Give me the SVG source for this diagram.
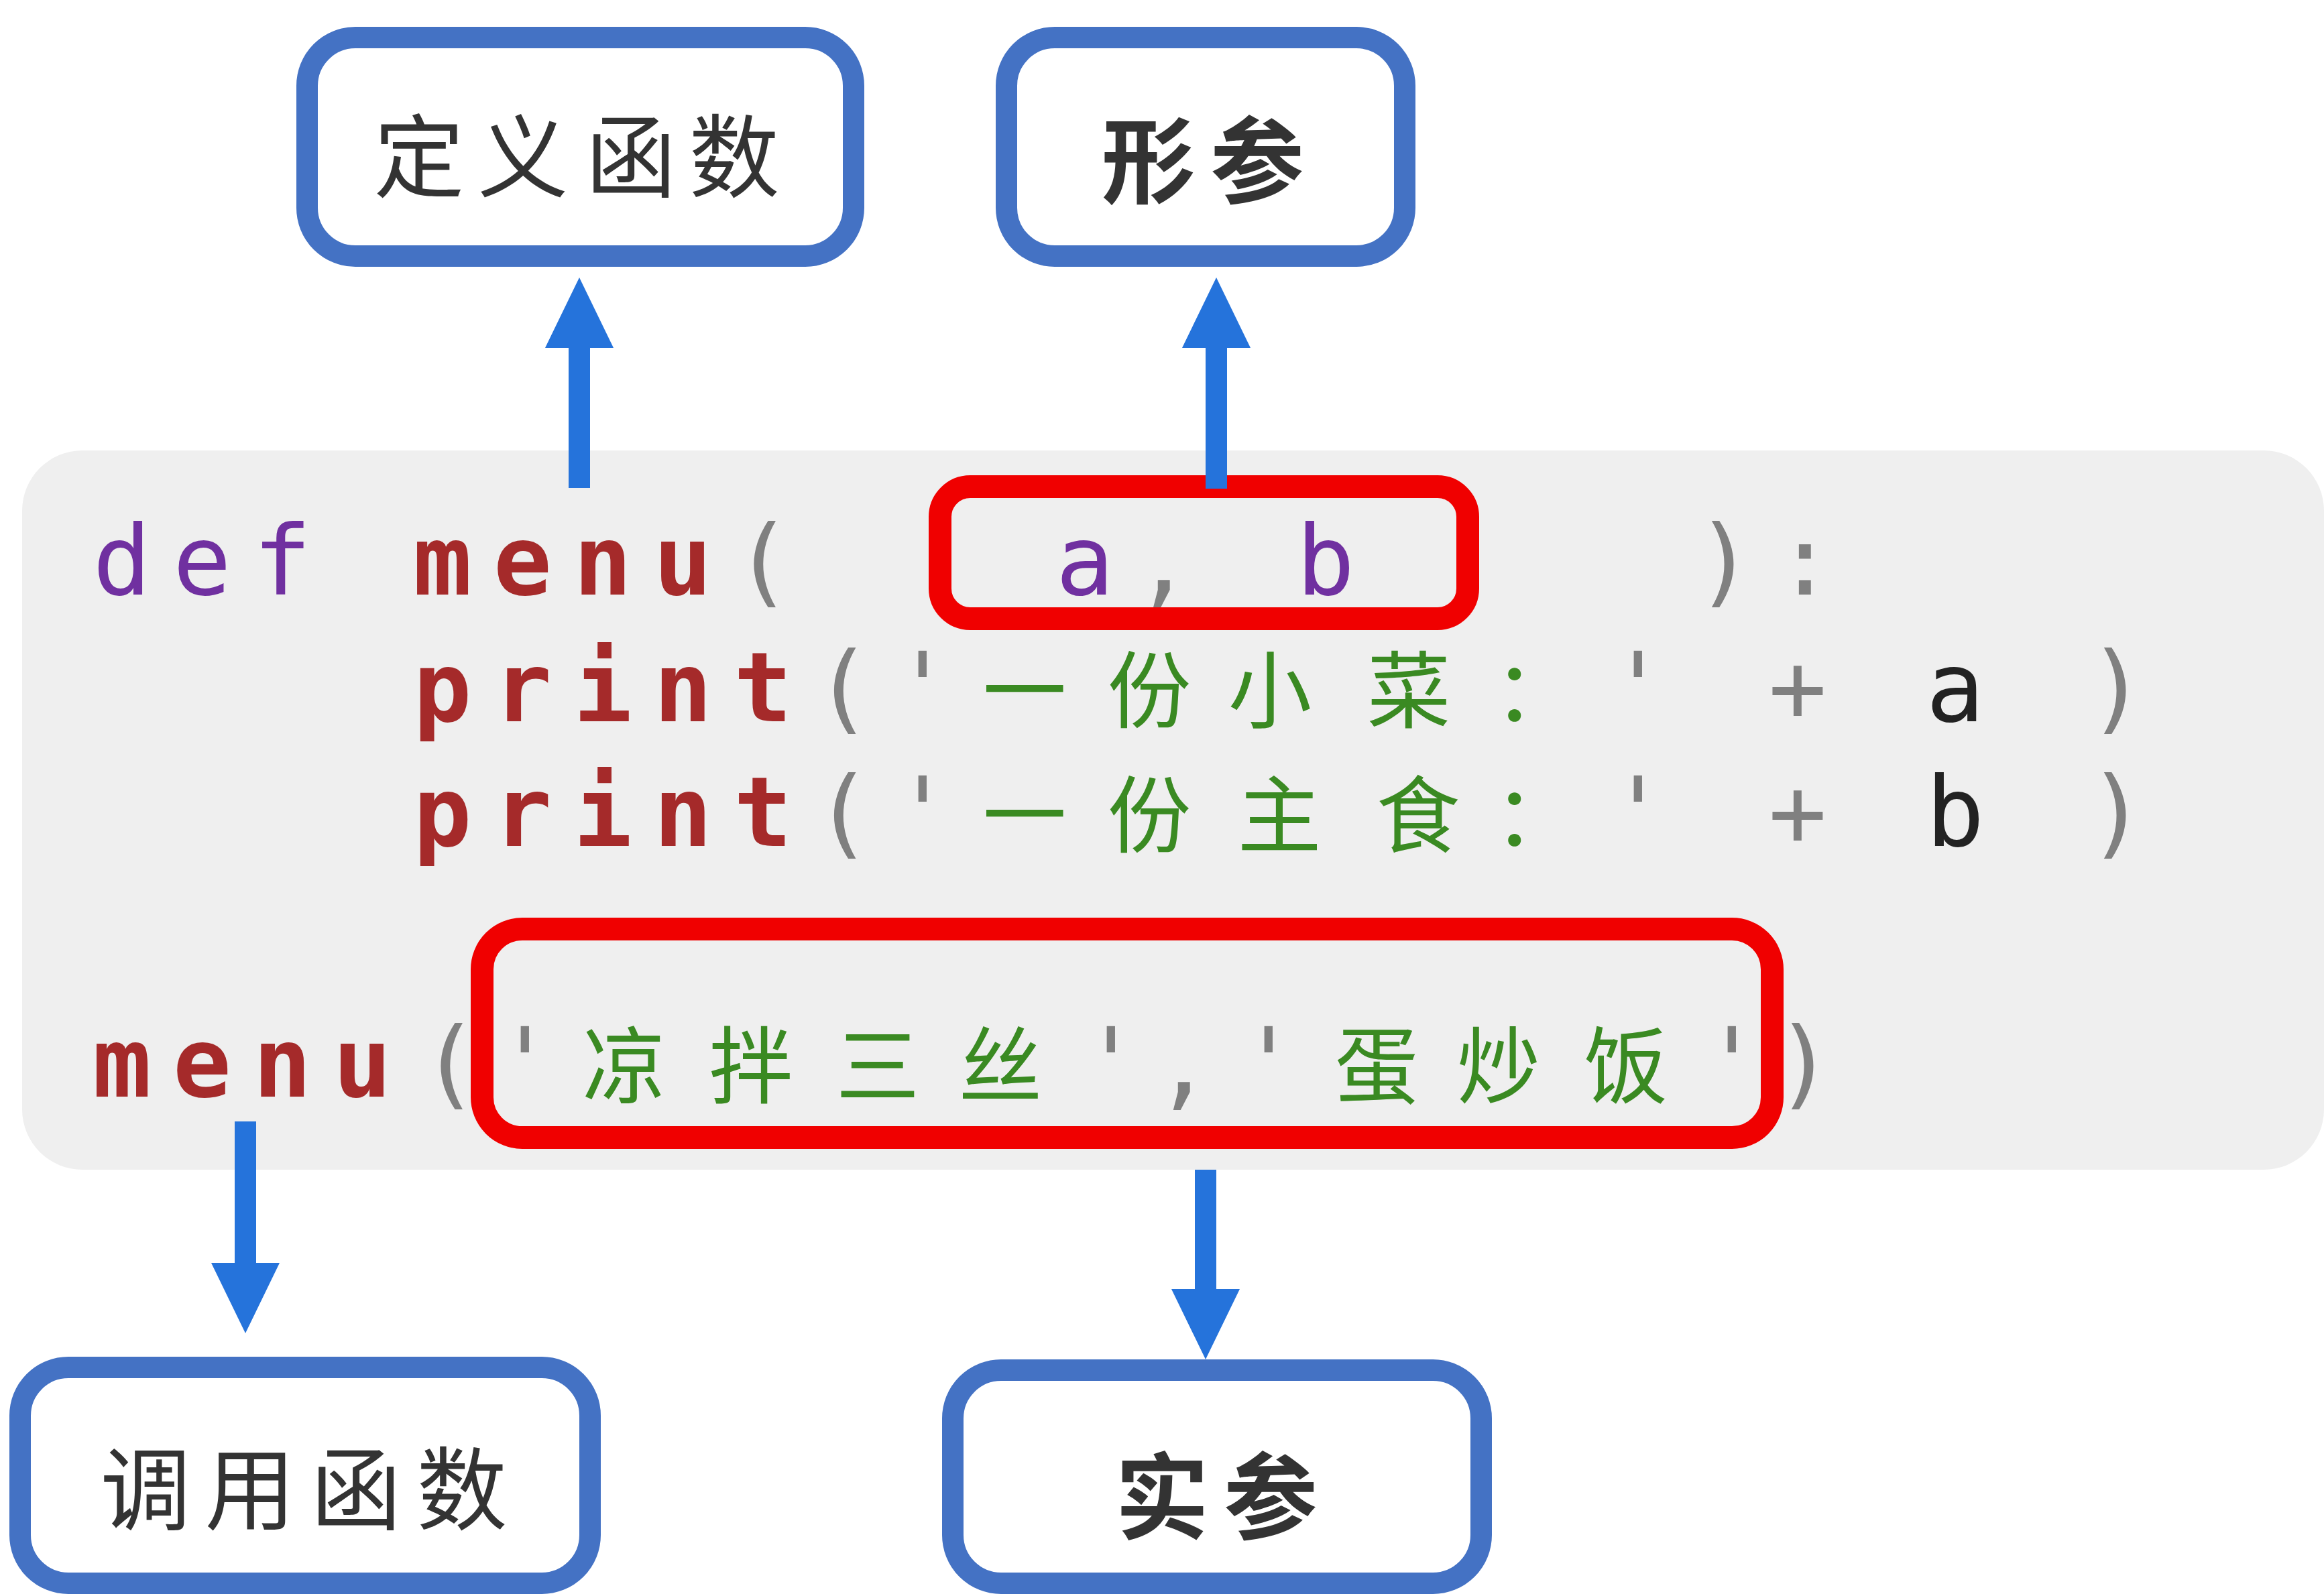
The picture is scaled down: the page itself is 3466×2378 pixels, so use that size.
<svg xmlns="http://www.w3.org/2000/svg" width="3466" height="2378" viewBox="0 0 3466 2378">
<style>
.bg{fill:#ffffff}
.codebg{fill:#efefef}
.nodebox{fill:#ffffff;stroke:#4472c4;stroke-width:32}
.hl{fill:none;stroke:#f00000;stroke-width:34}
.lbl{font-family:"Noto Sans CJK SC",sans-serif;fill:#333333;text-anchor:middle}
.code{font-family:"DejaVu Sans Mono","Liberation Mono",monospace;font-size:145px;text-anchor:middle}
.cjk{font-family:"Noto Sans CJK SC",sans-serif;font-size:125px;text-anchor:middle}
.kw{fill:#7030a0}
.fn{fill:#a52a2a;font-weight:bold}
.p{fill:#808080}
.s{fill:#3a8a22}
.v{fill:#222222}
.conn{stroke:#2573db;stroke-width:32;fill:none}
</style>
<defs>
<marker id="head" markerUnits="userSpaceOnUse" viewBox="0 0 105 102" markerWidth="105" markerHeight="102" refX="2" refY="51" orient="auto">
<path d="M0,0 L105,51 L0,102 Z" fill="#2573db"/>
</marker>
</defs>
<rect class="bg" x="0" y="0" width="3466" height="2378"/>

<g id="code-block">
<rect class="codebg" x="33" y="672" width="3433" height="1073" rx="90"/>
<text class="code kw" y="887" x="182 301.5 421">def</text>
<text class="code fn" y="887" x="660 779.5 899 1018.5">menu</text>
<text class="code p" y="887" x="1138">(</text>
<text class="code kw" y="887" x="1618">a</text>
<text class="code p" y="887" x="1735">,</text>
<text class="code kw" y="887" x="1977">b</text>
<text class="code p" y="887" x="2572 2692">):</text>

<text class="code fn" y="1076" x="660 779.5 899 1018.5 1138">print</text>
<text class="code p" y="1076" x="1257.5 1376">('</text>
<text class="cjk s" y="1076" x="1528 1714 1894 2101 2290">一份小菜：</text>
<text class="code p" y="1076" x="2443 2681">'+</text>
<text class="code v" y="1076" x="2916">a</text>
<text class="code p" y="1076" x="3157">)</text>

<text class="code fn" y="1262" x="660 779.5 899 1018.5 1138">print</text>
<text class="code p" y="1262" x="1257.5 1376">('</text>
<text class="cjk s" y="1262" x="1528 1714 1908 2115 2290">一份主食：</text>
<text class="code p" y="1262" x="2443 2681">'+</text>
<text class="code v" y="1262" x="2916">b</text>
<text class="code p" y="1262" x="3157">)</text>

<text class="code fn" y="1636" x="182 301.5 421 540.5">menu</text>
<text class="code p" y="1636" x="671 783">('</text>
<text class="cjk s" y="1636" x="931 1120 1309 1492">凉拌三丝</text>
<text class="code p" y="1636" x="1657 1765 1892">','</text>
<text class="cjk s" y="1636" x="2053 2235 2425">蛋炒饭</text>
<text class="code p" y="1636" x="2583 2691">')</text>
</g>

<g id="highlight-params">
<rect class="hl" x="1402" y="726" width="787" height="197" rx="45"/>
</g>
<g id="highlight-args">
<rect class="hl" x="719" y="1386" width="1924" height="311" rx="60"/>
</g>

<g id="node-define">
<rect class="nodebox" x="458" y="56" width="815" height="326" rx="72"/>
<text class="lbl" font-size="135" y="284" x="625 780 941 1095">定义函数</text>
</g>
<g id="node-formal">
<rect class="nodebox" x="1501" y="56" width="594" height="326" rx="72"/>
<text class="lbl" font-size="140" font-weight="bold" y="292" x="1713 1875">形参</text>
</g>
<g id="node-call">
<rect class="nodebox" x="30" y="2040" width="850" height="322" rx="72"/>
<text class="lbl" font-size="135" y="2272" x="217 373 531 689">调用函数</text>
</g>
<g id="node-actual">
<rect class="nodebox" x="1421" y="2044" width="788" height="318" rx="72"/>
<text class="lbl" font-size="140" font-weight="bold" y="2285" x="1733 1895">实参</text>
</g>

<g id="connectors">
<line class="conn" x1="864" y1="728" x2="864" y2="517" marker-end="url(#head)"/>
<line class="conn" x1="1814" y1="729" x2="1814" y2="517" marker-end="url(#head)"/>
<line class="conn" x1="366" y1="1673" x2="366" y2="1886" marker-end="url(#head)"/>
<line class="conn" x1="1798" y1="1745" x2="1798" y2="1925" marker-end="url(#head)"/>
</g>
</svg>
